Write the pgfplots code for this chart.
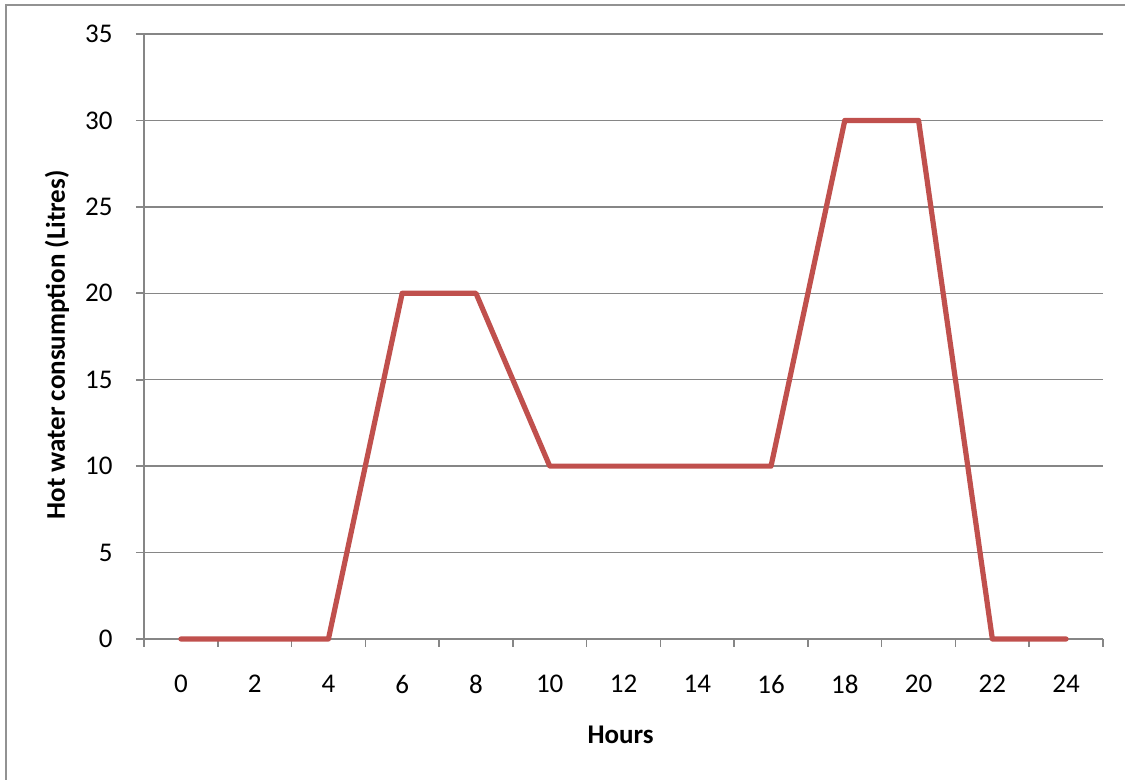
\documentclass[border=0pt]{standalone}
\usepackage{pgfplots}
\pgfplotsset{compat=1.18}
\usepackage{fontspec}
\setmainfont{Carlito}
\definecolor{linered}{HTML}{C0504D}
\definecolor{gridgray}{HTML}{868686}
\begin{document}
\fontsize{13.5}{16}\selectfont
\begin{tikzpicture}
\useasboundingbox (0,0) rectangle (562.5pt,390pt);
\draw[gridgray!90, line width=1.1pt] (3pt,0) -- (3pt,387.5pt) -- (563pt,387.5pt);
\begin{axis}[
  at={(72pt,70.5pt)}, anchor=south west,
  scale only axis,
  width=479.5pt, height=302.5pt,
  xmin=-1, xmax=25, ymin=0, ymax=35,
  axis x line*=bottom, axis y line*=left,
  axis line style={gridgray, line width=0.8pt, -},
  xtick={0,2,...,24},
  minor xtick={-1,1,...,25},
  ytick={0,5,...,35},
  ymajorgrids,
  grid style={gridgray, line width=0.7pt},
  tick align=outside,
  major tick length=4pt,
  minor tick length=4pt,
  xtick style={draw=none},
  minor x tick style={draw=gridgray, line width=0.8pt},
  y tick style={gridgray, line width=0.8pt},
  /pgf/number format/assume math mode=true,
  yticklabel style={anchor=east, xshift=-7pt, font=\fontsize{13.5}{16}\selectfont},
  xticklabel style={anchor=center, yshift=-18.5pt, font=\fontsize{13.5}{16}\selectfont},
  xlabel={\bfseries Hours},
  ylabel={\bfseries Hot water consumption (Litres)},
  xlabel style={at={(axis description cs:0.497,-0.1587)}, anchor=center},
  ylabel style={at={(axis description cs:-0.0907,0.486)}, anchor=center, rotate=0},
  clip=false,
]
\addplot[linered, line width=2.6pt, line join=round, line cap=round] coordinates {
(0,0) (2,0) (4,0) (6,20) (8,20) (10,10) (12,10) (14,10) (16,10) (18,30) (20,30) (22,0) (24,0)
};
\end{axis}
\end{tikzpicture}
\end{document}
